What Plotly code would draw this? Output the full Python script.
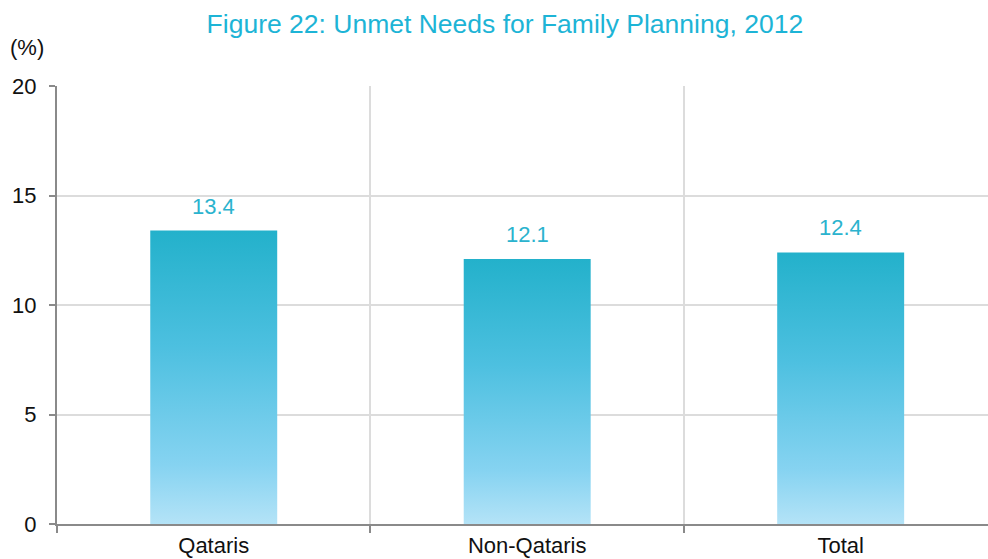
import plotly.graph_objects as go

# data
categories = ['Qataris', 'Non-Qataris', 'Total']
unmet_needs = [13.4, 12.1, 12.4]
y_ticks = [0, 5, 10, 15, 20]

bar_width = 0.405
label_color = '#2BB3CE'
gradient = [[0, '#B4E3F7'], [0.2, '#86D3F1'], [0.6, '#4DC0E0'], [1, '#23B1CB']]

fig = go.Figure()

for i, (cat, val) in enumerate(zip(categories, unmet_needs)):
    x0, x1 = i - bar_width / 2, i + bar_width / 2
    fig.add_trace(go.Scatter(x=[x0, x1, x1, x0, x0], y=[0, 0, val, val, 0],
                             mode='lines', fill='toself',
                             line=dict(width=0),
                             fillgradient=dict(type='vertical', colorscale=gradient),
                             hoverinfo='skip', name=cat, showlegend=False))

for i, val in enumerate(unmet_needs):
    fig.add_annotation(x=i, y=val, text=f'{val:.1f}', showarrow=False,
                       yanchor='bottom', yshift=10,
                       font=dict(size=22, color=label_color))

fig.add_annotation(xref='paper', yref='paper', x=-0.032, y=1.089,
                   xanchor='center', yanchor='middle',
                   text='(%)', showarrow=False,
                   font=dict(size=22, color='#111111'))

fig.update_layout(
    width=988, height=559,
    margin=dict(l=57, r=0, t=86, b=35),
    plot_bgcolor='white', paper_bgcolor='white',
    font=dict(family='Liberation Sans, Arial, sans-serif', size=22, color='#111111'),
    title=dict(text='Figure 22: Unmet Needs for Family Planning, 2012',
               x=0.511, xanchor='center', y=1 - 24 / 559, yanchor='middle',
               font=dict(size=26.5, color='#1DB4D6')),
    xaxis=dict(range=[-0.5, 2.47], tickvals=list(range(len(categories))),
               ticktext=categories, ticks='', showgrid=False, zeroline=False,
               showline=True, linecolor='#8a8a8a', linewidth=2,
               automargin=False, ticklabelstandoff=1,
               minor=dict(tickvals=[-0.5, 0.5, 1.5, 2.5], showgrid=True,
                          gridcolor='#dcdcdc', gridwidth=2,
                          ticks='outside', ticklen=7, tickcolor='#8a8a8a',
                          tickwidth=2)),
    yaxis=dict(range=[0, 20], tickvals=y_ticks, showgrid=True,
               gridcolor='#dcdcdc', gridwidth=2, zeroline=False,
               showline=True, linecolor='#8a8a8a', linewidth=2,
               automargin=False,
               ticks='outside', ticklen=6, tickcolor='#8a8a8a', tickwidth=2,
               ticklabelstandoff=8),
)

fig.write_html('out.html', config={'displayModeBar': False},
               post_script="document.body.style.margin='0';")
